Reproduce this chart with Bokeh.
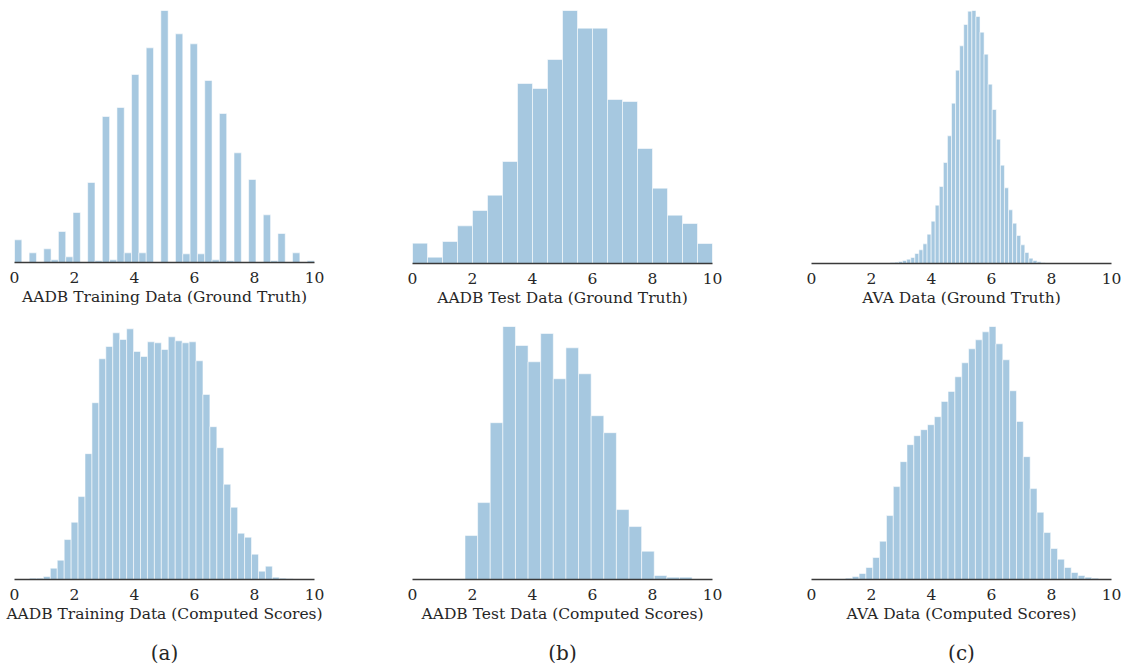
import numpy as np
from bokeh.plotting import figure
from bokeh.models import Range1d, Title
from bokeh.layouts import column, row
from bokeh.embed import file_html
from bokeh.resources import INLINE

# ---------------- data (bar heights, arbitrary count units) -------------
# (a) AADB training, ground truth: 41 bins over [0, 10]
train_gt_range = (0.0, 10.0)
train_gt_counts = [68, 0, 29, 0, 41, 8, 93, 17, 150, 0, 240, 5, 438, 8, 465, 29, 564, 29, 644, 0,
                   756, 0, 686, 26, 656, 26, 546, 8, 447, 5, 329, 0, 249, 0, 143, 5, 87, 0, 29, 0, 5]

# (b) AADB test, ground truth: 20 bins over [0, 10]
test_gt_range = (0.0, 10.0)
test_gt_counts = [61, 19, 66, 113, 159, 205, 306, 540, 525, 612,
                  759, 706, 706, 492, 486, 345, 226, 145, 120, 60]

# (c) AVA, ground truth: 38 bins over [2.63, 7.79]
ava_gt_range = (2.63, 7.79)
ava_gt_counts = [3, 4, 6, 9, 13, 18, 30, 41, 59, 88, 127, 175, 231, 303, 383, 481, 580, 653, 717,
                 757, 759, 741, 694, 628, 538, 462, 373, 295, 227, 161, 121, 84, 56, 33, 16, 9, 5, 2]

# (a) AADB training, computed scores: 39 bins over [0.50, 9.52]
train_cs_range = (0.50, 9.52)
train_cs_counts = [4, 4, 9, 34, 58, 120, 172, 249, 378, 531, 663, 700, 741, 721, 753, 685, 670, 714,
                   711, 691, 729, 717, 711, 714, 657, 556, 459, 396, 286, 217, 139, 127, 76, 25, 40,
                   7, 4, 2, 1]

# (b) AADB test, computed scores: 18 bins over [1.75, 9.32]
test_cs_range = (1.75, 9.32)
test_cs_counts = [132, 231, 471, 760, 703, 654, 739, 603, 696, 618, 492, 441, 210, 159, 85, 12, 7, 7]

# (c) AVA, computed scores: 37 bins over [1.13, 9.57]
ava_cs_range = (1.13, 9.57)
ava_cs_counts = [4, 9, 18, 36, 66, 115, 192, 279, 354, 405, 432, 450, 465, 489, 535, 565, 609, 651,
                 693, 720, 744, 760, 708, 660, 567, 475, 369, 273, 202, 141, 93, 61, 36, 21, 12, 7, 4]

x_ticks = [0, 2, 4, 6, 8, 10]
labels_top = ["AADB Training Data (Ground Truth)", "AADB Test Data (Ground Truth)", "AVA Data (Ground Truth)"]
labels_bottom = ["AADB Training Data (Computed Scores)", "AADB Test Data (Computed Scores)",
                 "AVA Data (Computed Scores)"]
panel_tags = ["(a)", "(b)", "(c)"]

# ---------------- styling -------------
FONT = "DejaVu Serif"
BAR = "#a6c8e0"
TXT = "#262626"


def make_panel(counts, rng, label, ymax, left, right, top, bottom, fw, fh, tag=None):
    counts = np.asarray(counts, dtype=float)
    edges = np.linspace(rng[0], rng[1], len(counts) + 1)
    p = figure(output_backend="svg", toolbar_location=None,
               frame_width=fw, frame_height=fh,
               min_border_left=left, min_border_right=right,
               min_border_top=top, min_border_bottom=bottom,
               x_range=Range1d(0, 10), y_range=Range1d(0, ymax))
    p.quad(left=edges[:-1], right=edges[1:], bottom=0, top=counts,
           fill_color=BAR, fill_alpha=1.0, line_color="white", line_alpha=0.55, line_width=1)
    p.yaxis.visible = False
    p.grid.visible = False
    p.outline_line_color = None
    p.background_fill_color = "white"
    p.border_fill_color = "white"
    ax = p.xaxis[0]
    ax.ticker = x_ticks
    ax.axis_line_color = "#3a3a3a"
    ax.axis_line_width = 1.5
    ax.major_tick_line_color = None
    ax.minor_tick_line_color = None
    ax.major_label_standoff = 3
    ax.major_label_text_font = FONT
    ax.major_label_text_font_size = "15.5px"
    ax.major_label_text_color = TXT
    ax.axis_label = label
    ax.axis_label_text_font = FONT
    ax.axis_label_text_font_size = "15.5px"
    ax.axis_label_text_font_style = "normal"
    ax.axis_label_text_color = TXT
    ax.axis_label_standoff = 2
    if tag is not None:
        t = Title(text=tag, align="center", text_font=FONT, text_font_size="20px",
                  text_font_style="normal", text_color=TXT, standoff=27)
        p.add_layout(t, "below")
    return p


p1 = make_panel(train_gt_counts, train_gt_range, labels_top[0], max(train_gt_counts), 14, 92, 10, 56, 300, 252)
p2 = make_panel(test_gt_counts, test_gt_range, labels_top[1], max(test_gt_counts), 6, 92, 7, 58, 300, 253)
p3 = make_panel(ava_gt_counts, ava_gt_range, labels_top[2], max(ava_gt_counts), 7, 11, 7, 58, 300, 253)

p4 = make_panel(train_cs_counts, train_cs_range, labels_bottom[0], max(train_cs_counts) + 7, 14, 92, 8, 91, 300, 253,
                tag=panel_tags[0])
p5 = make_panel(test_cs_counts, test_cs_range, labels_bottom[1], max(test_cs_counts), 6, 92, 8, 91, 300, 253,
                tag=panel_tags[1])
p6 = make_panel(ava_cs_counts, ava_cs_range, labels_bottom[2], max(ava_cs_counts), 7, 11, 8, 91, 300, 253,
                tag=panel_tags[2])

layout = column(row(p1, p2, p3), row(p4, p5, p6))
open("out.html", "w").write(file_html(layout, INLINE))
